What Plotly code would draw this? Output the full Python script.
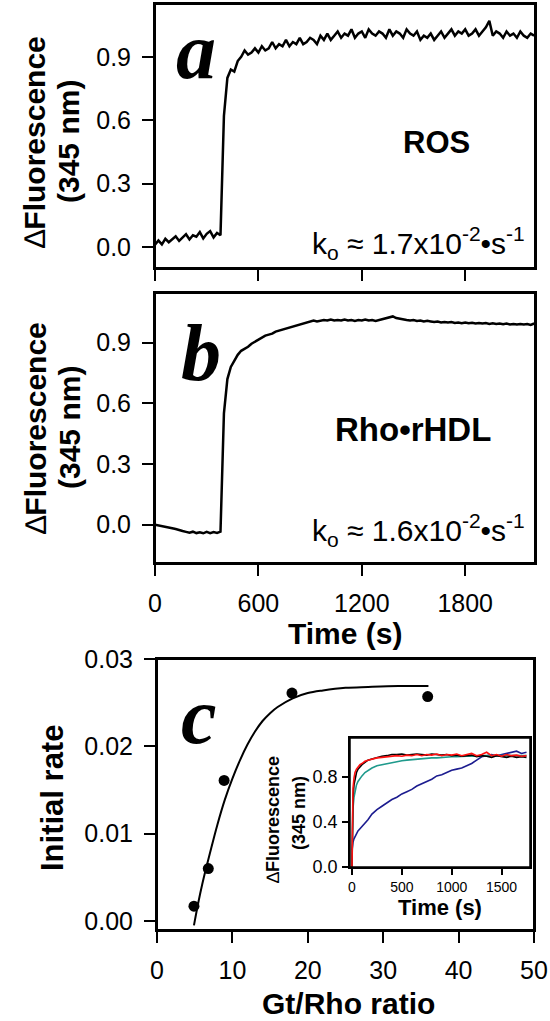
import plotly.graph_objects as go

# ---------------- data ----------------
# panels a and b: time grid (s) and normalized fluorescence
time_ab = list(range(0, 2201, 20))

fluor_a = [
    0.010, 0.030, 0.012, 0.038, 0.022, 0.034, 0.050, 0.028, 0.045, 0.060,
    0.035, 0.055, 0.048, 0.070, 0.040, 0.062, 0.075, 0.045, 0.066, 0.055,
    0.62, 0.80, 0.84, 0.83, 0.88, 0.90, 0.93, 0.91, 0.92, 0.94,
    0.92, 0.95, 0.93, 0.94, 0.97, 0.94, 0.96, 0.95, 0.98, 0.95,
    0.97, 0.96, 0.99, 0.96, 0.97, 0.99, 0.98, 0.96, 1.00, 0.98,
    1.01, 0.98, 1.00, 1.02, 0.99, 1.01, 1.00, 1.03, 0.99, 1.01,
    1.02, 0.99, 1.03, 1.01, 1.00, 1.02, 1.01, 0.99, 1.03, 1.00,
    1.02, 1.01, 0.99, 1.03, 1.01, 1.00, 1.02, 0.98, 1.00, 0.99,
    1.01, 0.98, 1.00, 1.02, 0.99, 1.01, 1.03, 1.00, 1.02, 1.01,
    1.03, 1.00, 1.01, 1.03, 1.00, 1.02, 1.04, 1.07, 1.00, 1.02,
    1.01, 0.99, 1.02, 1.00, 1.01, 0.99, 1.02, 1.00, 0.99, 1.01,
    1.00,
]

fluor_b = [
    0.000, -0.003, -0.008, -0.010, -0.015, -0.018, -0.022, -0.028, -0.032, -0.036,
    -0.040, -0.035, -0.042, -0.038, -0.043, -0.036, -0.042, -0.037, -0.041, -0.035,
    0.55, 0.72, 0.78, 0.81, 0.84, 0.86, 0.87, 0.88, 0.895, 0.905,
    0.915, 0.925, 0.935, 0.94, 0.945, 0.955, 0.96, 0.965, 0.97, 0.975,
    0.98, 0.985, 0.99, 0.995, 1.00, 1.005, 1.01, 1.005, 1.01, 1.012,
    1.01, 1.015, 1.01, 1.012, 1.01, 1.015, 1.01, 1.012, 1.008, 1.012,
    1.01, 1.015, 1.01, 1.012, 1.008, 1.012, 1.015, 1.02, 1.025, 1.03,
    1.022, 1.018, 1.015, 1.012, 1.01, 1.012, 1.008, 1.01, 1.005, 1.008,
    1.005, 1.002, 1.005, 1.000, 1.003, 1.000, 1.002, 0.998, 1.000, 0.997,
    1.000, 0.996, 0.999, 0.995, 0.998, 0.995, 0.997, 0.993, 0.996, 0.993,
    0.995, 0.992, 0.995, 0.990, 0.993, 0.990, 0.993, 0.990, 0.992, 0.988,
    0.995,
]

# panel c: initial rate vs Gt/Rho ratio
ratio_pts = [4.9, 6.8, 8.9, 17.9, 35.9]
rate_pts = [0.0017, 0.0060, 0.0161, 0.0261, 0.0257]
ratio_fit = [4.9, 5.5, 6.0, 6.5, 7.0, 8.0, 9.0, 10.0, 11.0, 12.0, 13.0, 14.0,
             15.0, 16.0, 18.0, 20.0, 22.0, 25.0, 28.0, 32.0, 36.0]
rate_fit = [-0.0005, 0.0022, 0.0042, 0.0060, 0.0077, 0.0110, 0.0139, 0.0163,
            0.0184, 0.0202, 0.0217, 0.0229, 0.0238, 0.0245, 0.0255, 0.0261,
            0.0264, 0.0267, 0.0268, 0.0269, 0.0269]

# inset traces
time_inset = [0, 5, 10, 20, 30, 45, 60, 80, 100, 130, 160, 200, 250, 300, 350,
              400, 450, 500, 550, 600, 650, 700, 750, 800, 850, 900, 950, 1000,
              1050, 1100, 1150, 1200, 1250, 1300, 1350, 1400, 1450, 1500, 1550,
              1600, 1650, 1700, 1750]
inset_black = [0.0, 0.45, 0.62, 0.73, 0.79, 0.84, 0.87, 0.89, 0.91, 0.93,
               0.95, 0.96, 0.975, 0.985, 0.99, 1.0, 1.0, 1.005, 0.995, 1.0,
               1.005, 1.0, 0.995, 1.005, 1.0, 0.995, 1.0, 0.99, 0.995, 0.985,
               0.99, 0.995, 0.98, 0.99, 0.985, 0.975, 0.99, 0.98, 0.975, 0.985,
               0.975, 0.98, 0.975]
inset_red = [0.0, 0.55, 0.7, 0.79, 0.84, 0.87, 0.89, 0.91, 0.92, 0.94,
             0.95, 0.96, 0.97, 0.975, 0.98, 0.985, 0.99, 0.985, 0.995, 0.99,
             1.0, 0.99, 1.0, 0.995, 1.005, 0.99, 1.0, 0.995, 1.005, 0.99,
             1.0, 1.01, 0.99, 1.0, 1.02, 0.99, 1.0, 0.985, 1.0, 0.99,
             0.995, 0.985, 0.99]
inset_teal = [0.0, 0.4, 0.52, 0.62, 0.68, 0.73, 0.76, 0.79, 0.81, 0.84,
              0.86, 0.88, 0.9, 0.91, 0.92, 0.93, 0.94, 0.945, 0.95, 0.955,
              0.96, 0.965, 0.965, 0.97, 0.97, 0.975, 0.975, 0.98, 0.98, 0.985,
              0.985, 0.985, 0.99, 0.99, 0.99, 0.99, 0.99, 0.99, 0.99, 0.99,
              0.99, 0.99, 0.99]
inset_navy = [0.15, 0.2, 0.22, 0.25, 0.27, 0.3, 0.32, 0.34, 0.36, 0.39,
              0.42, 0.47, 0.51, 0.54, 0.57, 0.6, 0.62, 0.65, 0.67, 0.69,
              0.72, 0.74, 0.76, 0.78, 0.81, 0.82, 0.84, 0.86, 0.87, 0.88,
              0.9, 0.92, 0.95, 0.98, 0.99, 1.0, 0.99, 1.0, 1.01, 1.02,
              1.03, 1.01, 1.02]

time_ticks = [0, 600, 1200, 1800]
fluor_ticks = [0.0, 0.3, 0.6, 0.9]
fluor_ticktext = ["0.0", "0.3", "0.6", "0.9"]
ratio_ticks = [0, 10, 20, 30, 40, 50]
rate_ticks = [0.0, 0.01, 0.02, 0.03]
rate_ticktext = ["0.00", "0.01", "0.02", "0.03"]
inset_xticks = [0, 500, 1000, 1500]
inset_yticks = [0.0, 0.4, 0.8]
inset_yticktext = ["0.0", "0.4", "0.8"]

# ---------------- layout helpers ----------------
W, H = 550, 1021
SANS = "Liberation Sans, Arial, sans-serif"
SERIF = "Liberation Serif, Times New Roman, serif"


def xd(l, r):
    return [l / W, r / W]


def yd(top, bottom):
    return [1 - bottom / H, 1 - top / H]


def px(x):
    return x / W


def py(y):
    return 1 - y / H


def axis(**kw):
    base = dict(showline=True, linecolor="black", linewidth=2, mirror=True,
                ticks="outside", ticklen=11, tickwidth=2, tickcolor="black",
                showgrid=False, zeroline=False, ticklabelstandoff=6,
                tickfont=dict(family=SANS, size=25, color="black"))
    base.update(kw)
    return base


fig = go.Figure()

fig.add_trace(go.Scatter(x=time_ab, y=fluor_a, mode="lines",
                         line=dict(color="black", width=2.5),
                         xaxis="x", yaxis="y", showlegend=False))
fig.add_trace(go.Scatter(x=time_ab, y=fluor_b, mode="lines",
                         line=dict(color="black", width=2.5),
                         xaxis="x2", yaxis="y2", showlegend=False))
fig.add_trace(go.Scatter(x=ratio_fit, y=rate_fit, mode="lines",
                         line=dict(color="black", width=2, shape="spline"),
                         xaxis="x3", yaxis="y3", showlegend=False))
fig.add_trace(go.Scatter(x=ratio_pts, y=rate_pts, mode="markers",
                         marker=dict(color="black", size=11),
                         xaxis="x3", yaxis="y3", showlegend=False))
for vals, col in [(inset_navy, "#1c1c8f"), (inset_teal, "#1f9a8c"),
                  (inset_black, "black"), (inset_red, "#ff1010")]:
    fig.add_trace(go.Scatter(x=time_inset, y=vals, mode="lines",
                             line=dict(color=col, width=1.6),
                             xaxis="x4", yaxis="y4", showlegend=False))

fig.update_layout(
    width=W, height=H, autosize=False,
    margin=dict(l=0, r=0, t=0, b=0, autoexpand=False),
    paper_bgcolor="white", plot_bgcolor="white",
    xaxis=axis(domain=xd(155, 535), range=[0, 2205], tickvals=time_ticks,
               showticklabels=False, anchor="y"),
    yaxis=axis(domain=yd(4, 268), range=[-0.10, 1.15], tickvals=fluor_ticks,
               ticktext=fluor_ticktext, anchor="x"),
    xaxis2=axis(domain=xd(155, 535), range=[0, 2205], tickvals=time_ticks,
                anchor="y2"),
    yaxis2=axis(domain=yd(293, 563), range=[-0.19, 1.146], tickvals=fluor_ticks,
                ticktext=fluor_ticktext, anchor="x2"),
    xaxis3=axis(domain=xd(157, 534), range=[0, 50], tickvals=ratio_ticks,
                anchor="y3"),
    yaxis3=axis(domain=yd(659, 930), range=[-0.00103, 0.03], tickvals=rate_ticks,
                ticktext=rate_ticktext, anchor="x3"),
    xaxis4=axis(domain=xd(350, 530), range=[-20, 1785], tickvals=inset_xticks,
                anchor="y4", linewidth=1.5, ticklen=6, tickwidth=1.5,
                ticklabelstandoff=0,
                tickfont=dict(family=SANS, size=14, color="black")),
    yaxis4=axis(domain=yd(738, 867), range=[0, 1.147], tickvals=inset_yticks,
                ticktext=inset_yticktext, anchor="x4", linewidth=1.5,
                ticklen=6, tickwidth=1.5, ticklabelstandoff=1,
                tickfont=dict(family=SANS, size=18, color="black")),
)

# explicit frames around each plotting area
for xr, yr, lw in [("x", "y", 2), ("x2", "y2", 2), ("x3", "y3", 2),
                   ("x4", "y4", 1.5)]:
    fig.add_shape(type="rect", xref=xr + " domain", yref=yr + " domain",
                  x0=0, x1=1, y0=0, y1=1, line=dict(color="black", width=lw),
                  fillcolor="rgba(0,0,0,0)", layer="above")


def ann(text, x, y, size, family=SANS, angle=0, xanchor="center",
        yanchor="middle"):
    fig.add_annotation(text=text, x=px(x), y=py(y), xref="paper", yref="paper",
                       showarrow=False, textangle=angle, xanchor=xanchor,
                       yanchor=yanchor,
                       font=dict(family=family, size=size, color="black"))


# y titles panels a and b
for cy in (142, 428):
    ann("\u2206<b>Fluorescence</b>", 35, cy, 30, angle=-90)
    ann("<b>(345 nm)</b>", 69, cy, 30, angle=-90)

ann("<b>Time (s)</b>", 345, 633, 30)
ann("<b>Initial rate</b>", 52, 798, 31, angle=-90)
ann("<b>Gt/Rho ratio</b>", 348, 1003, 30)

# panel letters
ann("<b><i>a</i></b>", 196, 51, 80, family=SERIF)
ann("<b><i>b</i></b>", 201, 353, 80, family=SERIF)
ann("<b><i>c</i></b>", 199, 716, 80, family=SERIF)

ann("<b>ROS</b>", 436, 143, 31)
ann("<b>Rho\u2022rHDL</b>", 413, 430, 33)

ann("k<sub>o</sub> \u2248 1.7x10<sup>-2</sup>\u2022s<sup>-1</sup>", 527, 243, 30,
    xanchor="right")
ann("k<sub>o</sub> \u2248 1.6x10<sup>-2</sup>\u2022s<sup>-1</sup>", 527, 530, 30,
    xanchor="right")

# inset titles
ann("\u2206<b>Fluorescence</b>", 273, 820, 18, angle=-90)
ann("<b>(345 nm)</b>", 299, 813, 18, angle=-90)
ann("<b>Time (s)</b>", 440, 893, 22, yanchor="top")

fig.write_html(
    "out.html",
    config={"displayModeBar": False},
    post_script="document.body.style.margin='0px';"
                "document.documentElement.style.overflow='hidden';",
)
